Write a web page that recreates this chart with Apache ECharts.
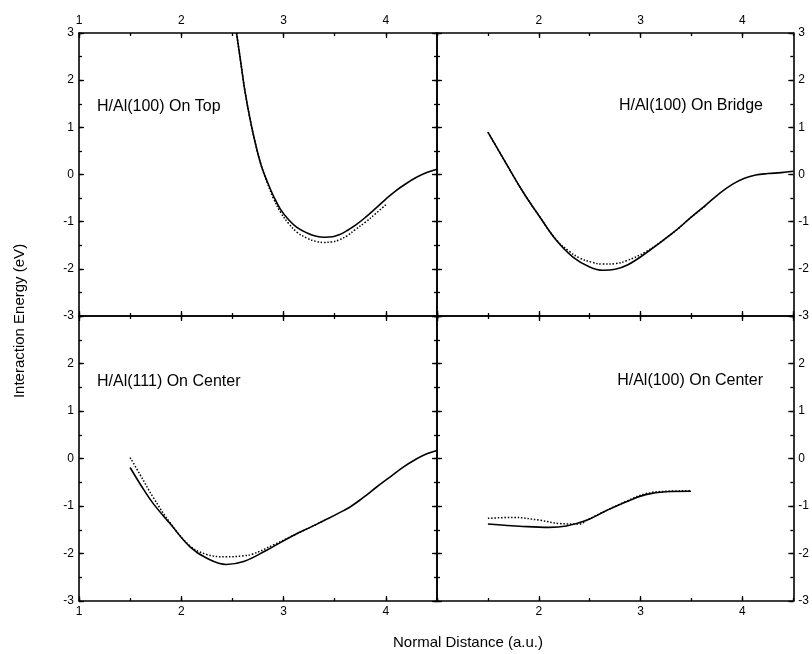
<!DOCTYPE html>
<html>
<head>
<meta charset="utf-8">
<script src="https://cdn.jsdelivr.net/npm/echarts@6/dist/echarts.min.js"></script>
<style>
html,body{margin:0;padding:0;background:#fff;}
#chart{width:812px;height:654px;}
</style>
</head>
<body>
<div id="chart"></div>
<script>
// ---- Data ----
var panelTitles = ['H/Al(100) On Top', 'H/Al(100) On Bridge', 'H/Al(111) On Center', 'H/Al(100) On Center'];
var xTickLabels = [1, 2, 3, 4];
var yTickLabels = [-3, -2, -1, 0, 1, 2, 3];

// Panel 1: H/Al(100) On Top
var topSolidX = [2.54, 2.58, 2.62, 2.67, 2.72, 2.78, 2.84, 2.90, 2.97, 3.05, 3.13, 3.23, 3.32, 3.40, 3.48, 3.55, 3.62, 3.70, 3.80, 3.90, 4.00, 4.10, 4.20, 4.30, 4.40, 4.50];
var topSolidY = [3.00, 2.40, 1.80, 1.20, 0.70, 0.20, -0.15, -0.45, -0.74, -0.96, -1.12, -1.24, -1.31, -1.33, -1.32, -1.27, -1.19, -1.08, -0.91, -0.72, -0.52, -0.34, -0.19, -0.06, 0.04, 0.11];
var topDotX = [2.54, 2.58, 2.62, 2.67, 2.72, 2.78, 2.84, 2.90, 2.97, 3.05, 3.13, 3.23, 3.32, 3.39, 3.47, 3.55, 3.62, 3.70, 3.80, 3.90, 4.00];
var topDotY = [3.00, 2.40, 1.80, 1.20, 0.70, 0.20, -0.17, -0.50, -0.80, -1.04, -1.22, -1.35, -1.42, -1.44, -1.43, -1.38, -1.30, -1.17, -1.01, -0.83, -0.64];

// Panel 2: H/Al(100) On Bridge
var bridgeSolidX = [1.50, 1.68, 1.845, 2.01, 2.17, 2.335, 2.50, 2.63, 2.75, 2.87, 3.05, 3.31, 3.50, 3.64, 3.77, 3.90, 4.02, 4.13, 4.25, 4.38, 4.50];
var bridgeSolidY = [0.90, 0.23, -0.37, -0.90, -1.39, -1.75, -1.96, -2.03, -2.01, -1.92, -1.67, -1.25, -0.90, -0.65, -0.41, -0.21, -0.08, -0.01, 0.02, 0.04, 0.07];
var bridgeDotX = [1.50, 1.68, 1.845, 2.01, 2.17, 2.30, 2.40, 2.52, 2.63, 2.75, 2.86, 3.05, 3.31, 3.50, 3.64];
var bridgeDotY = [0.90, 0.23, -0.37, -0.90, -1.38, -1.63, -1.77, -1.86, -1.90, -1.89, -1.83, -1.64, -1.25, -0.90, -0.66];

// Panel 3: H/Al(111) On Center
var c111SolidX = [1.50, 1.61, 1.726, 1.89, 2.085, 2.25, 2.44, 2.61, 2.835, 3.095, 3.26, 3.42, 3.53, 3.65, 3.78, 3.91, 4.04, 4.17, 4.29, 4.40, 4.50];
var c111SolidY = [-0.19, -0.58, -0.95, -1.37, -1.86, -2.10, -2.23, -2.17, -1.93, -1.62, -1.45, -1.28, -1.16, -1.02, -0.82, -0.60, -0.39, -0.18, -0.02, 0.10, 0.17];
var c111DotX = [1.50, 1.60, 1.726, 1.89, 2.085, 2.25, 2.44, 2.60, 2.70, 2.90, 3.095, 3.26, 3.42];
var c111DotY = [0.02, -0.35, -0.82, -1.35, -1.84, -2.02, -2.07, -2.05, -2.01, -1.82, -1.62, -1.45, -1.28];

// Panel 4: H/Al(100) On Center
var c100SolidX = [1.50, 1.845, 2.10, 2.27, 2.47, 2.66, 2.86, 3.05, 3.25, 3.495];
var c100SolidY = [-1.38, -1.43, -1.45, -1.42, -1.30, -1.10, -0.91, -0.76, -0.70, -0.69];
var c100DotX = [1.50, 1.75, 2.01, 2.205, 2.40, 2.47, 2.66, 2.86, 3.05, 3.25, 3.495];
var c100DotY = [-1.26, -1.24, -1.30, -1.37, -1.38, -1.30, -1.10, -0.90, -0.74, -0.69, -0.68];

// ---- Build option ----
function pairs(xs, ys) { return xs.map(function (x, i) { return [x, ys[i]]; }); }

var FONT = '"Liberation Sans", Arial, Helvetica, sans-serif';
var grids = [
  { left: 79, top: 33, width: 358, height: 283 },
  { left: 437, top: 33, width: 357, height: 283 },
  { left: 79, top: 316, width: 358, height: 285 },
  { left: 437, top: 316, width: 357, height: 285 }
];
var lineW = 1.6;
var xAxes = [], yAxes = [], series = [];
var majorX = [], majorY = [];

grids.forEach(function (g, gi) {
  var isLeft = (gi % 2 === 0), isTop = gi < 2;
  ['top', 'bottom'].forEach(function (pos) {
    var showLab = (pos === 'top' && isTop) || (pos === 'bottom' && !isTop);
    majorX[gi] = majorX[gi] || {};
    majorX[gi][pos] = xAxes.length;
    xAxes.push({
      type: 'value', gridIndex: gi, position: pos, min: 1, max: 4.5, interval: 1,
      axisLine: { show: true, onZero: false, lineStyle: { color: '#000', width: 1.6 } },
      axisTick: { show: true, inside: true, length: 5, lineStyle: { color: '#000', width: 1.3 } },
      splitLine: { show: false },
      axisLabel: {
        show: showLab, color: '#000', fontSize: 12, fontFamily: FONT,
        margin: pos === 'top' ? 6 : 5, showMinLabel: isLeft, showMaxLabel: false,
        formatter: function (v) { return xTickLabels.indexOf(v) >= 0 ? String(v) : ''; }
      }
    });
    xAxes.push({
      type: 'value', gridIndex: gi, position: pos, min: 1, max: 4.5, interval: 0.5,
      axisLine: { show: false, onZero: false },
      axisTick: { show: true, inside: true, length: 3, lineStyle: { color: '#000', width: 1.3 } },
      splitLine: { show: false }, axisLabel: { show: false }
    });
  });
  ['left', 'right'].forEach(function (pos) {
    var showLab = (pos === 'left' && isLeft) || (pos === 'right' && !isLeft);
    majorY[gi] = majorY[gi] || {};
    majorY[gi][pos] = yAxes.length;
    yAxes.push({
      type: 'value', gridIndex: gi, position: pos, min: -3, max: 3, interval: 1,
      axisLine: { show: true, onZero: false, lineStyle: { color: '#000', width: 1.6 } },
      axisTick: { show: true, inside: true, length: 5, lineStyle: { color: '#000', width: 1.3 } },
      splitLine: { show: false },
      axisLabel: {
        show: showLab, color: '#000', fontSize: 12, fontFamily: FONT, margin: 5,
        showMaxLabel: isTop, showMinLabel: true,
        formatter: function (v) { return yTickLabels.indexOf(v) >= 0 ? String(v) : ''; }
      }
    });
    yAxes.push({
      type: 'value', gridIndex: gi, position: pos, min: -3, max: 3, interval: 0.5,
      axisLine: { show: false, onZero: false },
      axisTick: { show: true, inside: true, length: 3, lineStyle: { color: '#000', width: 1.3 } },
      splitLine: { show: false }, axisLabel: { show: false }
    });
  });
});

var panelData = [
  [pairs(topSolidX, topSolidY), pairs(topDotX, topDotY)],
  [pairs(bridgeSolidX, bridgeSolidY), pairs(bridgeDotX, bridgeDotY)],
  [pairs(c111SolidX, c111SolidY), pairs(c111DotX, c111DotY)],
  [pairs(c100SolidX, c100SolidY), pairs(c100DotX, c100DotY)]
];
panelData.forEach(function (pd, gi) {
  series.push({
    type: 'line', xAxisIndex: majorX[gi].bottom, yAxisIndex: majorY[gi].left,
    data: pd[1], showSymbol: false, smooth: 0.4, clip: true,
    lineStyle: { color: '#000', width: 1.5, type: [1.5, 1.8] }, z: 2
  });
  series.push({
    type: 'line', xAxisIndex: majorX[gi].bottom, yAxisIndex: majorY[gi].left,
    data: pd[0], showSymbol: false, smooth: 0.4, clip: true,
    lineStyle: { color: '#000', width: lineW }, z: 3
  });
});

var titleStyle = { fill: '#000', fontSize: 16, fontFamily: FONT };
var option = {
  animation: false,
  backgroundColor: '#fff',
  grid: grids,
  xAxis: xAxes,
  yAxis: yAxes,
  series: series,
  graphic: [
    { type: 'text', left: 97, top: 99, style: Object.assign({ text: panelTitles[0] }, titleStyle) },
    { type: 'text', right: 49, top: 98, style: Object.assign({ text: panelTitles[1], textAlign: 'right' }, titleStyle) },
    { type: 'text', left: 97, top: 374, style: Object.assign({ text: panelTitles[2] }, titleStyle) },
    { type: 'text', right: 49, top: 373, style: Object.assign({ text: panelTitles[3], textAlign: 'right' }, titleStyle) },
    { type: 'text', x: 468, y: 643, style: { text: 'Normal Distance (a.u.)', fill: '#000', fontSize: 15, fontFamily: FONT, textAlign: 'center', textVerticalAlign: 'middle' } },
    { type: 'text', x: 20, y: 321, rotation: Math.PI / 2, style: { text: 'Interaction Energy (eV)', fill: '#000', fontSize: 15, fontFamily: FONT, textAlign: 'center', textVerticalAlign: 'middle' } }
  ]
};

var chart = echarts.init(document.getElementById('chart'), null, { renderer: 'canvas' });
chart.setOption(option);
</script>
</body>
</html>
